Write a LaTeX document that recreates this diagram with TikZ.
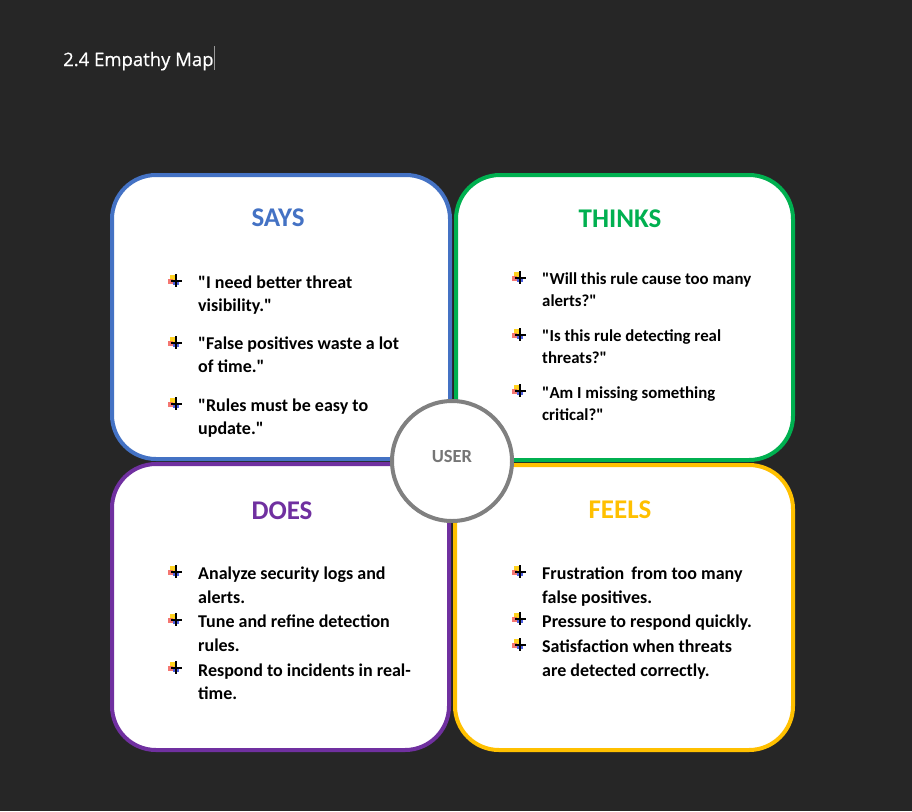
\documentclass[tikz,border=0pt]{standalone}
\usepackage{fontspec}
\setmainfont{Carlito}[Ligatures=TeXOff]
\newfontfamily\titlefont{Open Sans}[FakeBold=0.6]
\definecolor{pagebg}{HTML}{262626}
\definecolor{saysblue}{HTML}{4472C4}
\definecolor{thinksgreen}{HTML}{00B050}
\definecolor{doespurple}{HTML}{7030A0}
\definecolor{feelsgold}{HTML}{FFC000}
\definecolor{usergray}{HTML}{808080}
\definecolor{usertext}{HTML}{767676}
\definecolor{bulyellow}{HTML}{FFD21F}
\definecolor{bulred}{HTML}{F4605A}
\definecolor{bulblue}{HTML}{3B4FE0}
\begin{document}
\begin{tikzpicture}[x=1pt,y=-1pt,
  quad/.style={draw, fill=white, line width=4pt, rounded corners=44pt, inner sep=0pt},
  heading/.style={font=\fontsize{27}{31}\selectfont\bfseries, anchor=base, inner sep=0pt},
  % multi-line items are placed by the baseline of their last line
  item/.style={font=\fontsize{18}{23.5}\selectfont\bfseries, anchor=base west,
    align=left, inner sep=0pt, text=black},
  itemtight/.style={item, font=\fontsize{16.8}{22}\selectfont\bfseries},
  bul/.pic={
    \fill[bulyellow] (-6,-6) rectangle (-1,-1);
    \fill[bulred, opacity=0.85] (-8,-2) rectangle (-3,3);
    \fill[bulblue, opacity=0.9] (-3,-1) rectangle (3,4);
    \draw[black, line width=1.1pt] (0,-7) -- (0,6);
    \draw[black, line width=1.1pt] (-5,0) -- (6,0);
  }
]
% page background and fixed frame
\fill[pagebg] (0,0) rectangle (912,811);
\useasboundingbox (0,0) rectangle (912,811);

% title line with text cursor
\node[font=\titlefont\fontsize{18.5}{22}\selectfont, text=white, anchor=base west, inner sep=0pt]
  (title) at (63,66) {2.4 Empathy Map};
\coordinate (cursortop) at (214,46);
\coordinate (cursorbot) at (214,70);
\draw[gray!80, line width=0.8pt] (cursortop) -- (cursorbot);

% the four quadrants
\node[quad, draw=saysblue, minimum width=338pt, minimum height=284pt] (says) at (281,317) {};
\node[quad, draw=thinksgreen, minimum width=337pt, minimum height=285pt] (thinks) at (624.5,317.5) {};
\node[quad, draw=doespurple, minimum width=337pt, minimum height=286pt] (does) at (280.5,607) {};
\node[quad, draw=feelsgold, minimum width=338pt, minimum height=285pt] (feels) at (624,607.5) {};

% centre circle and its label
\node[circle, draw=usergray, fill=white, line width=4pt, minimum size=120pt, inner sep=0pt] (user) at (452,461) {};
\node[font=\fontsize{18.5}{22}\selectfont\bfseries, text=usertext, inner sep=0pt] (userlabel) at (452,456) {USER};

% headings
\node[heading, text=saysblue] (saysh) at (278,226) {SAYS};
\node[heading, text=thinksgreen] (thinksh) at (620,227) {THINKS};
\node[heading, text=doespurple] (doesh) at (282,519) {DOES};
\node[heading, text=feelsgold] (feelsh) at (620,518) {FEELS};

% SAYS items
\pic at (176,281) {bul};
\node[item] (s1) at (198,311.5) {"I need better threat\\visibility."};
\pic at (176,343) {bul};
\node[item] (s2) at (198,372.5) {"False positives waste a lot\\of time."};
\pic at (176,404) {bul};
\node[item] (s3) at (198,434.5) {"Rules must be easy to\\update."};

% THINKS items
\pic at (520,278) {bul};
\node[itemtight] (t1) at (542,306) {"Will this rule cause too many\\alerts?"};
\pic at (520,335) {bul};
\node[itemtight] (t2) at (542,363) {"Is this rule detecting real\\threats?"};
\pic at (520,391) {bul};
\node[itemtight] (t3) at (542,420) {"Am I missing something\\critical?"};

% DOES items
\pic at (176,572) {bul};
\node[item] (d1) at (198,603) {Analyze security logs and\\alerts.};
\pic at (176,620) {bul};
\node[item] (d2) at (198,651) {Tune and refine detection\\rules.};
\pic at (176,668) {bul};
\node[item] (d3) at (198,699.5) {Respond to incidents in real-\\time.};

% FEELS items
\pic at (520,572) {bul};
\node[item] (f1) at (542,603) {Frustration\, from too many\\false positives.};
\pic at (520,619) {bul};
\node[item] (f2) at (542,627) {Pressure to respond quickly.};
\pic at (520,645) {bul};
\node[item] (f3) at (542,676) {Satisfaction when threats\\are detected correctly.};
\end{tikzpicture}
\end{document}
